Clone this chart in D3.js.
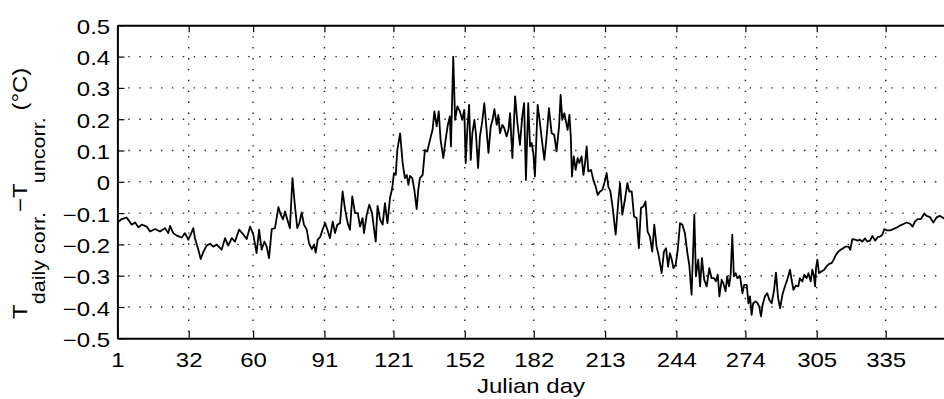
<!DOCTYPE html>
<html><head><meta charset="utf-8">
<script src="https://cdn.jsdelivr.net/npm/d3@7"></script>
<style>html,body{margin:0;padding:0;background:#fff;overflow:hidden}</style>
</head><body>
<svg id="chart" width="944" height="399"></svg>
<script>
// ---- data ----
const days = [1,2.9,5,6,7.2,8.7,10.1,11.6,13.7,15.2,17.4,19.5,21.7,23.1,23.9,25.3,26.8,29,30.4,31.8,33,34,34.7,36.2,37.2,38.4,39.8,41.3,42.7,44.2,46.3,47.8,49.2,50.7,52.1,53.9,55.8,57.2,58.7,60.1,61.5,62.6,63.7,64.9,65.9,66.9,68.1,69.5,71,72,73,73.9,74.9,76,77.1,78.2,79.2,80.1,81.1,82.1,83.3,84.3,85.5,86.5,87.2,88.1,89.1,90.2,91.3,92.3,93.4,94.6,95.6,96.6,97.8,98.9,100,101.1,102.1,103.1,104.3,105.5,106.5,107.6,108.2,109.4,110.5,111.7,112.6,113.3,114.1,115.2,116.3,117.3,118.4,119.5,120.5,121.2,122,122.7,123.9,125,126,126.8,127.5,128.2,129.2,130.1,131.1,131.8,132.5,133.7,134.7,135.7,136.9,138,138.8,139.8,140.7,141.5,142.7,143.6,144.6,145.5,146,147,147.8,148.8,149.9,150.9,151.8,152.4,153.1,153.9,154.6,155.3,156.2,156.9,157.8,158.6,159.6,160.5,161.5,162.3,163.3,164.1,164.9,165.9,166.6,167.3,168.4,169.2,170.2,171,171.7,172.7,173.9,174.9,176,177,177.8,178.6,179.6,180.4,181.1,181.8,182.5,183.7,184.7,185.7,186.6,187.6,188.6,189.8,190.9,191.9,193,193.7,194.4,195.3,196,196.7,197.5,198.1,198.6,199.4,200.2,201.1,201.8,202.8,203.6,204.3,205,205.7,206.9,207.9,208.9,209.8,210.8,211.8,212.7,213.7,214.4,215.3,216.3,217.6,218.8,219.5,220.5,221.5,222.7,223.5,224.6,225.6,226.7,227.7,228.6,229.6,230.6,231.5,232.5,233.5,234.4,235.4,236.4,237.6,238.6,239.5,240.4,241.2,242,242.7,243.7,244.6,245.6,246.6,247.7,248.8,249.6,250.6,251.4,251.8,252.5,253.5,254.3,255.1,256.1,257.2,258.3,259.3,260.4,261.2,262,262.7,263.7,264.4,265.4,266.1,266.9,267.6,268.3,269,269.8,270.5,271.7,272.7,273.5,274.6,275.3,276,276.7,277.4,278.5,279.3,280,280.8,281.5,282.5,283.5,284.4,285.4,286.4,287.3,288.2,289.1,290.1,291.2,292.4,293.4,294.1,294.9,295.9,297,297.7,298.8,299.6,300.6,301.4,302.4,303.1,303.8,304.3,304.7,305.3,306,307.2,308.3,309.3,310.4,311.5,312.5,313.4,314.4,315.4,316.6,317.6,318.8,319.6,320.5,321.7,322.8,323.8,324.8,326,327,328.2,329.2,330.4,331.5,332.5,333.5,334.4,335.4,336.9,338.3,339.8,341.2,342.7,344.1,345.6,346.7,347.7,348.9,350.3,351.7,352.8,354.3,355.7,357.2,358.6,360.1,361.5];
const values = [-0.13,-0.119,-0.114,-0.124,-0.137,-0.13,-0.145,-0.137,-0.143,-0.159,-0.151,-0.159,-0.148,-0.164,-0.141,-0.164,-0.172,-0.178,-0.164,-0.185,-0.166,-0.148,-0.18,-0.217,-0.247,-0.223,-0.204,-0.198,-0.207,-0.201,-0.217,-0.18,-0.204,-0.18,-0.191,-0.153,-0.169,-0.183,-0.143,-0.169,-0.228,-0.153,-0.217,-0.191,-0.207,-0.244,-0.151,-0.148,-0.081,-0.105,-0.12,-0.095,-0.121,-0.148,0.012,-0.079,-0.148,-0.132,-0.098,-0.137,-0.153,-0.196,-0.215,-0.201,-0.226,-0.185,-0.177,-0.153,-0.132,-0.153,-0.18,-0.127,-0.164,-0.137,-0.132,-0.031,-0.089,-0.132,-0.153,-0.047,-0.1,-0.1,-0.143,-0.116,-0.164,-0.105,-0.073,-0.1,-0.153,-0.191,-0.077,-0.121,-0.137,-0.068,-0.132,-0.052,-0.02,0.028,0.022,0.102,0.155,0.06,0.012,0.022,-0.01,0.019,0.012,-0.026,-0.087,-0.026,0.012,0.022,0.102,0.097,0.134,0.166,0.225,0.177,0.225,0.134,0.076,0.13,0.18,0.209,0.113,0.4,0.198,0.241,0.225,0.198,0.23,0.06,0.166,0.246,0.07,0.155,0.198,0.15,0.044,0.145,0.193,0.251,0.166,0.092,0.177,0.198,0.232,0.182,0.214,0.155,0.182,0.171,0.145,0.166,0.219,0.076,0.273,0.187,0.118,0.209,0.251,0.006,0.251,0.113,0.124,0.092,0.017,0.246,0.187,0.124,0.07,0.145,0.235,0.155,0.15,0.097,0.177,0.278,0.198,0.219,0.193,0.166,0.214,0.145,0.017,0.081,0.038,0.076,0.06,0.081,0.022,0.06,0.113,0.033,0.038,0.006,-0.015,-0.042,-0.031,-0.026,-0.004,0.028,-0.015,-0.03,-0.082,-0.169,-0.058,-0.004,-0.105,-0.063,-0.004,-0.031,-0.031,-0.111,-0.116,-0.212,-0.084,-0.079,-0.063,-0.159,-0.175,-0.223,-0.137,-0.207,-0.239,-0.292,-0.223,-0.212,-0.271,-0.228,-0.249,-0.276,-0.265,-0.217,-0.132,-0.137,-0.164,-0.228,-0.265,-0.361,-0.196,-0.105,-0.302,-0.249,-0.334,-0.244,-0.313,-0.334,-0.276,-0.308,-0.308,-0.318,-0.297,-0.366,-0.313,-0.324,-0.35,-0.302,-0.334,-0.297,-0.169,-0.302,-0.292,-0.308,-0.302,-0.356,-0.329,-0.329,-0.388,-0.366,-0.425,-0.388,-0.382,-0.388,-0.398,-0.43,-0.393,-0.366,-0.356,-0.377,-0.388,-0.35,-0.29,-0.37,-0.404,-0.361,-0.334,-0.308,-0.281,-0.313,-0.345,-0.332,-0.334,-0.308,-0.318,-0.297,-0.308,-0.292,-0.318,-0.281,-0.302,-0.334,-0.276,-0.249,-0.292,-0.286,-0.281,-0.27,-0.262,-0.26,-0.247,-0.233,-0.223,-0.217,-0.212,-0.207,-0.207,-0.217,-0.183,-0.185,-0.188,-0.185,-0.191,-0.181,-0.191,-0.188,-0.173,-0.188,-0.177,-0.175,-0.169,-0.151,-0.155,-0.155,-0.151,-0.146,-0.14,-0.135,-0.13,-0.134,-0.143,-0.127,-0.119,-0.119,-0.102,-0.109,-0.113,-0.13,-0.113,-0.109,-0.116,-0.118];
const xTickValues = [1,32,60,91,121,152,182,213,244,274,305,335];
const yTickValues = [-0.5,-0.4,-0.3,-0.2,-0.1,0,0.1,0.2,0.3,0.4,0.5];
const yTickLabels = ["\u22120.5","\u22120.4","\u22120.3","\u22120.2","\u22120.1","0","0.1","0.2","0.3","0.4","0.5"];
const xAxisTitle = "Julian day";

// ---- layout ----
const W = 944, H = 399;
const L = 117.4, T = 25.3, B = 338.3;
const FONT = "'Liberation Sans', Arial, Helvetica, sans-serif";
const STRETCH = "scale(1.2,1)";

const x = d3.scaleLinear().domain([1, 366]).range([L, L + 365 * 2.3003]);
const y = d3.scaleLinear().domain([-0.5, 0.5]).range([B, T]);

const svg = d3.select("#chart");
svg.append("rect").attr("width", W).attr("height", H).attr("fill", "#fff");

svg.append("defs").append("clipPath").attr("id", "plotclip")
  .append("rect").attr("x", L).attr("y", T).attr("width", W - L).attr("height", B - T);

// grid (dotted)
const grid = svg.append("g").attr("stroke", "#222").attr("stroke-width", 1.4)
  .attr("stroke-dasharray", "1.4,9.5").attr("fill", "none");
grid.selectAll("line.h").data(yTickValues.filter(v => v > -0.5 && v < 0.5)).join("line")
  .attr("x1", L).attr("x2", W).attr("y1", d => y(d)).attr("y2", d => y(d));
grid.selectAll("line.v").data(xTickValues.filter(v => v > 1)).join("line")
  .attr("x1", d => x(d)).attr("x2", d => x(d)).attr("y1", T).attr("y2", B);

// data line
const line = d3.line().x((d, i) => x(days[i])).y(d => y(d)).curve(d3.curveLinear);
svg.append("path").datum(values).attr("clip-path", "url(#plotclip)")
  .attr("d", line).attr("fill", "none").attr("stroke", "#000")
  .attr("stroke-width", 1.8).attr("stroke-linejoin", "round");

// axes
const xAxis = d3.axisBottom(x).tickValues(xTickValues).tickSizeInner(-7).tickSizeOuter(0).tickFormat(d3.format("d"));
const gx = svg.append("g").attr("transform", `translate(0,${B})`).call(xAxis);
gx.selectAll("text").attr("y", 28.7).attr("dy", 0).attr("transform", STRETCH);

const xTop = d3.axisTop(x).tickValues(xTickValues).tickSizeInner(-7).tickSizeOuter(0).tickFormat("");
svg.append("g").attr("transform", `translate(0,${T})`).call(xTop);

const yAxis = d3.axisLeft(y).tickValues(yTickValues).tickSizeInner(-7).tickSizeOuter(0)
  .tickFormat((d, i) => yTickLabels[i]);
const gy = svg.append("g").attr("transform", `translate(${L},0)`).call(yAxis);
gy.selectAll("text").attr("x", -7.2 / 1.2).attr("dy", "0.4em").attr("transform", STRETCH);

svg.selectAll(".domain").attr("stroke", "#000").attr("stroke-width", 2);
svg.selectAll(".tick line").attr("stroke", "#000").attr("stroke-width", 1.2);
svg.selectAll(".tick text").attr("fill", "#000").style("font-family", FONT).style("font-size", "20px");

// x title
svg.append("text").attr("transform", `translate(531,393) ${STRETCH}`)
  .attr("text-anchor", "middle").style("font-family", FONT).style("font-size", "20px")
  .attr("fill", "#000").text(xAxisTitle);

// y title: T_{daily corr.} − T_{uncorr.} (°C)
const yt = svg.append("text")
  .attr("transform", `translate(27,319) rotate(-90) ${STRETCH}`)
  .attr("text-anchor", "start").style("font-family", FONT).attr("fill", "#000");
yt.append("tspan").style("font-size", "20px").text("T");
yt.append("tspan").style("font-size", "18px").attr("dy", 18).text("daily corr.");
yt.append("tspan").style("font-size", "20px").attr("dy", -18).text("\u2212T");
yt.append("tspan").style("font-size", "18px").attr("dy", 18).text("uncorr.");
yt.append("tspan").style("font-size", "20px").attr("dy", -18).text(" (\u00B0C)");
</script>
</body></html>
